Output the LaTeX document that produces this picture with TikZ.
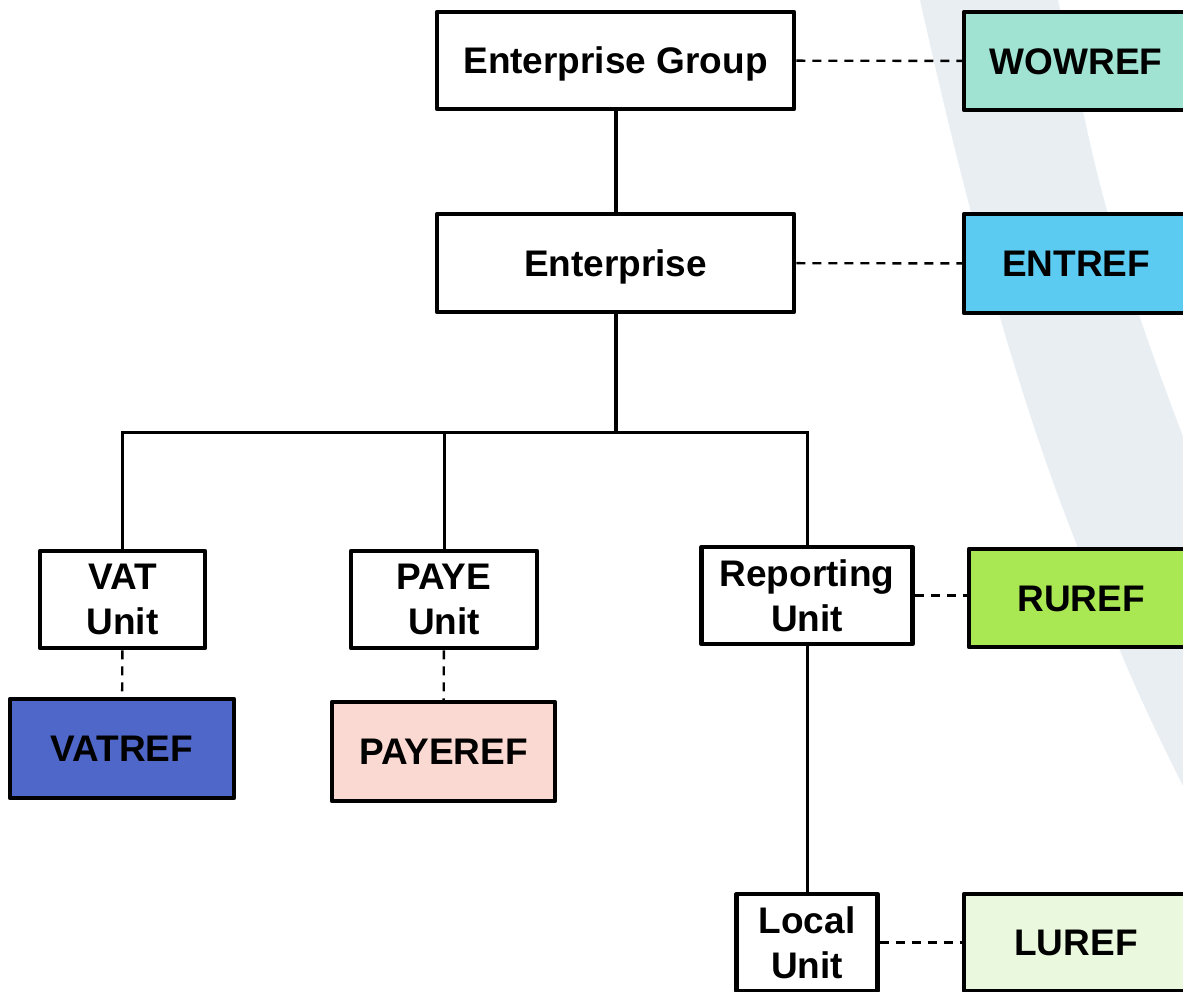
\documentclass[tikz,border=0pt]{standalone}
\usepackage{fontspec}
\setmainfont{Liberation Sans}
\usepackage{tikz}
\definecolor{wowcol}{RGB}{160,227,211}
\definecolor{entcol}{RGB}{91,203,242}
\definecolor{rucol}{RGB}{169,232,82}
\definecolor{lucol}{RGB}{234,248,221}
\definecolor{vatcol}{RGB}{79,103,200}
\definecolor{payecol}{RGB}{251,217,211}
\definecolor{swoosh}{RGB}{233,238,243}

\tikzset{
  unitbox/.style={draw, line width=4.5pt, line join=round, fill=white,
    font=\fontsize{37}{45}\selectfont\bfseries, inner sep=0pt},
  oneline/.style={unitbox, text height=26.5pt, text depth=0pt},
  twoline/.style={unitbox, align=center},
  link/.style={line width=4pt},
  branch/.style={line width=3pt},
  refline/.style={line width=2.4pt, dash pattern=on 9pt off 7pt}
}

\begin{document}
\begin{tikzpicture}[x=1pt, y=-1pt]
    \clip (0,0) rectangle (1183,992);

    % Background swoosh
    \fill[swoosh] (920,0) .. controls (960,180) and (1020,420) .. (1100,600)
        .. controls (1130,680) and (1160,740) .. (1190,800)
        -- (1190,455) .. controls (1150,350) and (1110,240) .. (1085,120)
        -- (1058,0) -- cycle;

    % Units
    \node[oneline, minimum width=357, minimum height=97] (eg) at (615.5,60.5) {Enterprise Group};
    \node[oneline, minimum width=357, minimum height=98] (ent) at (615.5,263) {Enterprise};
    \node[twoline, minimum width=165, minimum height=97] (vat) at (122.5,599.5) {VAT\\Unit};
    \node[twoline, minimum width=186, minimum height=97] (paye) at (444,599.5) {PAYE\\Unit};
    \node[twoline, minimum width=211, minimum height=97] (ru) at (807,595.5) {Reporting\\Unit};
    \node[twoline, minimum width=141, minimum height=97] (lu) at (807,942.5) {Local\\Unit};

    % Reference numbers
    \node[oneline, fill=wowcol, minimum width=224, minimum height=98] (wowref) at (1076,61) {WOWREF};
    \node[oneline, fill=entcol, minimum width=224, minimum height=99] (entref) at (1076,263.5) {ENTREF};
    \node[oneline, fill=rucol, minimum width=224, minimum height=98] (ruref) at (1081,598) {RUREF};
    \node[oneline, fill=lucol, minimum width=224, minimum height=97] (luref) at (1076,942.5) {LUREF};
    \node[oneline, fill=vatcol, minimum width=224, minimum height=99] (vatref) at (122,748.5) {VATREF};
    \node[oneline, fill=payecol, minimum width=223, minimum height=99] (payeref) at (443.5,751.5) {PAYEREF};

    % Hierarchy
    \coordinate (split) at (615.5,432);
    \draw[link] (eg) -- (ent);
    \draw[link] (ent) -- (split);
    \draw[branch] (vat.north) |- (split) -| (ru.north);
    \draw[branch] (paye.north) -- (paye.north |- split);
    \draw[branch] (ru) -- (lu);

    % Dashed reference links
    \draw[refline] (eg) -- (wowref);
    \draw[refline] (ent) -- (entref);
    \draw[refline] (ru.east) -- (ru.east -| ruref.west);
    \draw[refline] (lu) -- (luref);
    \draw[refline] (vat) -- (vatref);
    \draw[refline] (paye) -- (payeref);
\end{tikzpicture}
\end{document}
